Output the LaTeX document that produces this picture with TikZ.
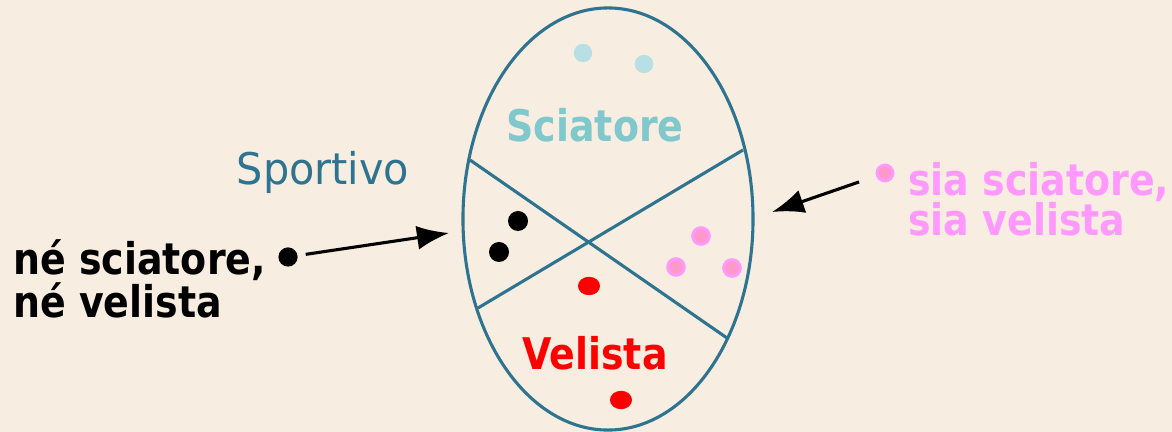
\documentclass[tikz,border=0pt]{standalone}
\usepackage{fontspec}
\setmainfont[FakeStretch=0.87]{DejaVu Sans}
\newfontfamily\sportfont[FakeStretch=0.95]{DejaVu Sans}
\usepackage{tikz}
\usetikzlibrary{arrows.meta, positioning, calc, shapes.geometric}
\definecolor{bgbeige}{HTML}{F7EDE0}
\definecolor{setblue}{HTML}{2E7490}
\definecolor{skicyan}{HTML}{80C8CC}
\definecolor{skidot}{HTML}{B8DFE3}
\definecolor{sailred}{HTML}{FF0000}
\definecolor{bothpink}{HTML}{FF99FF}
\definecolor{bothcore}{HTML}{FF99CC}
\tikzset{
  border/.style={
    draw=setblue, line width=2.2pt,
  },
  elem/.style={
    circle, inner sep=0pt, minimum size=0.5cm,
  },
  elem ski/.style={elem, fill=skidot, minimum size=0.46cm},
  elem sail/.style={elem, ellipse, fill=sailred, minimum width=0.55cm, minimum height=0.46cm},
  elem none/.style={elem, fill=black},
  elem both/.style={elem, fill=bothcore, draw=bothpink, line width=2pt, minimum size=0.42cm},
  setname/.style={
    font=\bfseries\fontsize{31}{31}\selectfont, inner sep=0pt,
  },
  caption/.style={
    font=\bfseries\fontsize{31}{28.4}\selectfont, align=left, inner sep=0pt,
  },
  arrow/.style={
    -{Latex[length=8mm, width=6mm]}, line width=2.2pt, draw=black,
  },
}

\begin{document}
\begin{tikzpicture}[x=0.025cm, y=-0.025cm]

  \fill[bgbeige] (0,0) rectangle (1172,432);
  \useasboundingbox (0,0) rectangle (1172,432);

  % the set and its four regions
  \node[border, ellipse, minimum width=7.25cm, minimum height=10.55cm, inner sep=0pt]
    (sport) at (608,219) {};
  \draw[border] (470,160) -- (727,338);
  \draw[border] (743,150) -- (478,308);

  \node[setname, text=skicyan] (ski) at (595,125) {Sciatore};
  \node[setname, text=sailred] (sail) at (595,353) {Velista};
  \node[font=\sportfont\fontsize{31}{31}\selectfont, text=setblue, inner sep=0pt]
    (sportlbl) at (323,172) {Sportivo};

  % elements
  \node[elem ski] (s1) at (583,53) {};
  \node[elem ski] (s2) at (644,64) {};
  \node[elem none] (n1) at (518,221) {};
  \node[elem none] (n2) at (499,252) {};
  \node[elem sail] (v1) at (589,286) {};
  \node[elem sail] (v2) at (621,400) {};
  \node[elem both] (b1) at (701,236) {};
  \node[elem both] (b2) at (676,267) {};
  \node[elem both] (b3) at (732,268) {};

  % legend on the left
  \node[elem none, minimum size=0.48cm] (nodot) at (288,257) {};
  \node[caption, anchor=west] (nolbl) at (13,279) {né sciatore,\\né velista};
  \coordinate (notip) at (449,233);
  \draw[arrow, shorten <=0.2cm] (nodot) -- (notip);

  % legend on the right
  \node[elem both, minimum size=0.4cm] (siadot) at (885,173) {};
  \node[caption, anchor=west, text=bothpink] (sialbl) at (908,199) {sia sciatore,\\sia velista};
  \coordinate (siatip) at (772,212);
  \draw[arrow, shorten <=0.45cm] (siadot) -- (siatip);

\end{tikzpicture}
\end{document}
